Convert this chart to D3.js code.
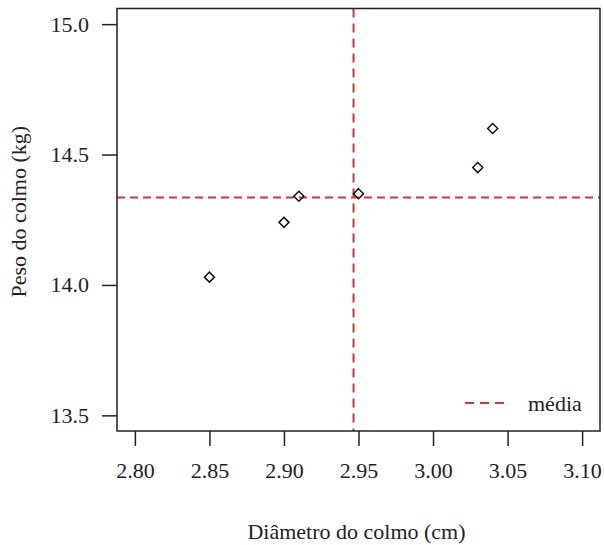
<!DOCTYPE html>
<html>
<head>
<meta charset="utf-8">
<script src="https://cdn.jsdelivr.net/npm/d3@7"></script>
<style>
  body { margin: 0; background: #fff; }
  svg text { font-family: "Liberation Serif", Tinos, "Times New Roman", "DejaVu Serif", serif; fill: #222; }
</style>
</head>
<body>
<div id="chart"></div>
<script>
// diâmetro (cm) e peso (kg)
const diametro = [2.85, 2.90, 2.91, 2.95, 3.03, 3.04];
const peso = [14.03, 14.24, 14.34, 14.35, 14.45, 14.60];
const xTicks = [2.80, 2.85, 2.90, 2.95, 3.00, 3.05, 3.10];
const yTicks = [13.5, 14.0, 14.5, 15.0];
const xLim = [2.80, 3.10];
const yLim = [13.5, 15.0];

(function () {
    const W = 604, H = 545;
    const margin = { top: 8.5, right: 4, bottom: 114, left: 117 },
        width = W - margin.left - margin.right,
        height = H - margin.top - margin.bottom;
    const fs = 22;
    const font = "'Liberation Serif', Tinos, 'Times New Roman', 'DejaVu Serif', serif";
    const red = "#c83a3a";

    const svg = d3.select("#chart")
        .append("svg")
        .attr("width", W)
        .attr("height", H);

    const g = svg.append("g")
        .attr("transform", `translate(${margin.left},${margin.top})`);

    // R style: 4% extension of the limits
    const ext = (l) => [l[0] - 0.04 * (l[1] - l[0]), l[1] + 0.04 * (l[1] - l[0])];

    const x = d3.scaleLinear().domain(ext(xLim)).range([0, width]);
    const y = d3.scaleLinear().domain(ext(yLim)).range([height, 0]);

    // X axis
    const xAxis = g.append("g")
        .attr("transform", `translate(0, ${height})`)
        .call(d3.axisBottom(x).tickValues(xTicks).tickFormat(d3.format(".2f"))
            .tickSize(15).tickPadding(16));
    xAxis.attr("font-family", font);
    xAxis.select(".domain").remove();
    xAxis.selectAll("line").attr("stroke", "#222").attr("stroke-width", 1.5);
    xAxis.selectAll("text").attr("font-size", fs).attr("fill", "#222");

    // Y axis
    const yAxis = g.append("g")
        .call(d3.axisLeft(y).tickValues(yTicks).tickFormat(d3.format(".1f"))
            .tickSize(15).tickPadding(13));
    yAxis.attr("font-family", font);
    yAxis.select(".domain").remove();
    yAxis.selectAll("line").attr("stroke", "#222").attr("stroke-width", 1.5);
    yAxis.selectAll("text").attr("font-size", fs).attr("fill", "#222");

    // Mean lines
    const mx = d3.mean(diametro), my = d3.mean(peso);
    g.append("line")
        .attr("x1", x(mx)).attr("x2", x(mx))
        .attr("y1", 0).attr("y2", height)
        .attr("stroke", red).attr("stroke-width", 2)
        .attr("stroke-dasharray", "9,6");
    g.append("line")
        .attr("x1", 0).attr("x2", width)
        .attr("y1", y(my)).attr("y2", y(my))
        .attr("stroke", red).attr("stroke-width", 2)
        .attr("stroke-dasharray", "8,5");

    // Box
    g.append("rect")
        .attr("width", width).attr("height", height)
        .attr("fill", "none").attr("stroke", "#222").attr("stroke-width", 1.5);

    // Points (diamonds)
    const data = diametro.map((d, i) => ({ x: d, y: peso[i] }));
    g.selectAll("path.pt")
        .data(data)
        .enter()
        .append("path")
        .attr("class", "pt")
        .attr("d", d3.symbol().type(d3.symbolDiamond2).size(64))
        .attr("transform", d => `translate(${x(d.x)},${y(d.y)})`)
        .attr("fill", "none")
        .attr("stroke", "#111")
        .attr("stroke-width", 1.5);

    // Legend
    const leg = g.append("g")
        .attr("transform", `translate(${width - 135},${height - 28})`);
    leg.append("line")
        .attr("x1", 0).attr("x2", 40)
        .attr("stroke", red).attr("stroke-width", 2)
        .attr("stroke-dasharray", "9,6");
    leg.append("text")
        .attr("x", 63).attr("y", 8)
        .attr("font-family", font)
        .attr("font-size", fs)
        .text("média");

    // Axis titles
    svg.append("text")
        .attr("x", margin.left + width / 2 - 2)
        .attr("y", 539)
        .attr("text-anchor", "middle")
        .attr("font-family", font)
        .attr("font-size", fs)
        .text("Diâmetro do colmo (cm)");

    svg.append("text")
        .attr("transform", `translate(26, ${margin.top + height / 2 - 8}) rotate(-90)`)
        .attr("text-anchor", "middle")
        .attr("font-family", font)
        .attr("font-size", fs)
        .text("Peso do colmo (kg)");
})();
</script>
</body>
</html>
